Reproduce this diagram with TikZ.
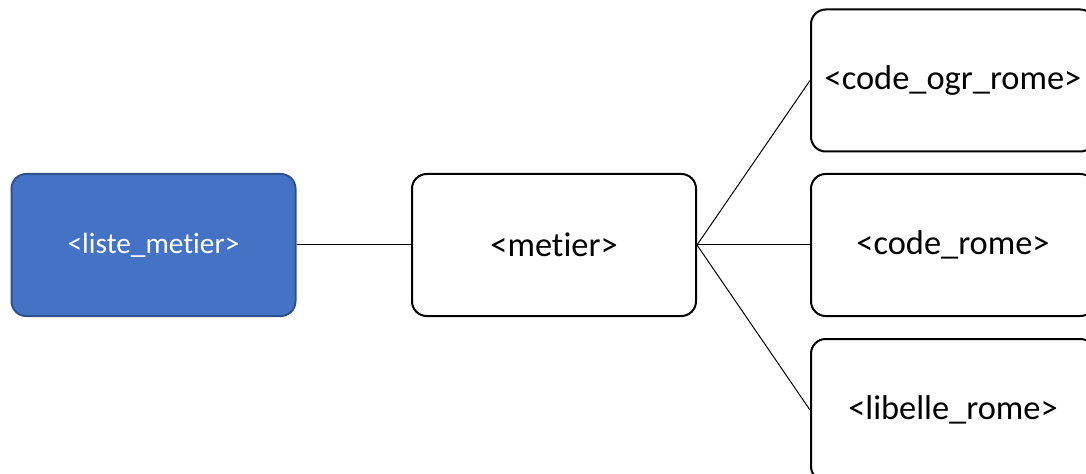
\documentclass[tikz,border=0pt]{standalone}
\usepackage{fontspec}
\setmainfont{Carlito}[Ligatures=NoCommon]
\definecolor{bleu}{HTML}{4472C4}
\definecolor{bleufonce}{HTML}{2F528F}
\tikzset{
  boite/.style={draw, line width=1.5pt, rounded corners=11pt,
    minimum width=213pt, minimum height=106.5pt, fill=white,
    font=\fontsize{25.8}{30}\selectfont},
  racine/.style={boite, fill=bleu, draw=bleufonce, text=white,
    font=\fontsize{22}{26}\selectfont},
  lien/.style={line width=0.75pt}
}
\begin{document}
\begin{tikzpicture}[x=0.75pt,y=-0.75pt]
  \newcommand\xa{153.5}
  \newcommand\xb{554}
  \newcommand\xc{953}
  \useasboundingbox (0,0) rectangle (1086,474);
  \node[racine] (liste) at (\xa,245) {<liste\_metier>};
  \node[boite] (metier) at (\xb,245) {<metier>};
  \node[boite] (ogr) at (\xc,80.5) {<code\_ogr\_rome>};
  \node[boite] (rome) at (\xc,245) {<code\_rome>};
  \node[boite] (libelle) at (\xc,410) {<libelle\_rome>};

  \draw[lien] (liste.east) -- (metier.west);
  \draw[lien] (metier.east) -- (ogr.west);
  \draw[lien] (metier.east) -- (rome.west);
  \draw[lien] (metier.east) -- (libelle.west);
\end{tikzpicture}
\end{document}
